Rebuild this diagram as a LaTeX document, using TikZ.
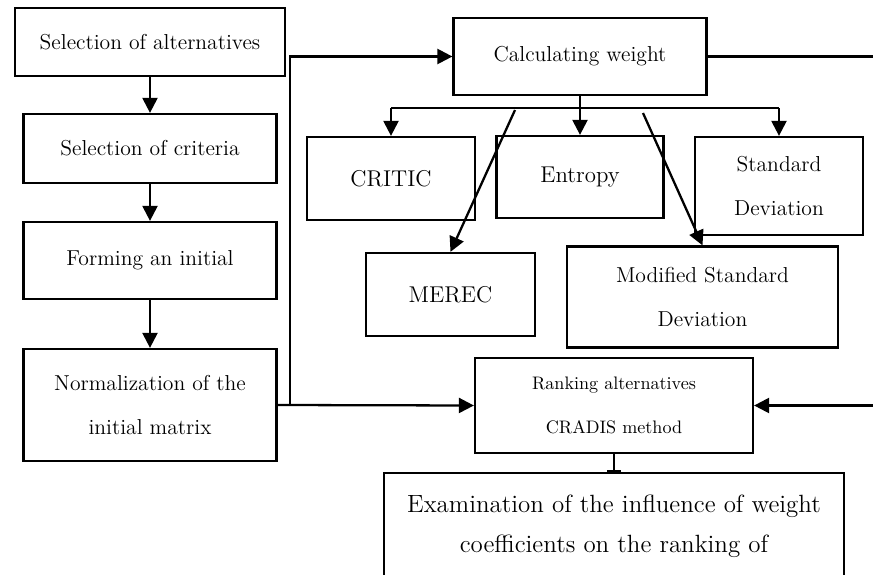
\documentclass[tikz,border=0pt]{standalone}
\usetikzlibrary{arrows.meta}

\begin{document}
\begin{tikzpicture}[x=0.02cm,y=-0.02cm,
		box/.style={draw, line width=1.3pt, align=center, inner sep=2pt, font=\fontsize{12.3}{25.5}\selectfont},
		big/.style={font=\fontsize{13}{25.5}\selectfont},
		arr/.style={line width=1.3pt, -{Triangle[length=8.5pt,width=8.5pt]}}]
		\clip (0,0) rectangle (873,575);

		\node[box, minimum width=5.4cm, minimum height=1.36cm] (selalt) at (150,42) {Selection of alternatives};
		\node[box, minimum width=5.06cm, minimum height=1.38cm] (selcrit) at (150,148.5) {Selection of criteria};
		\node[box, minimum width=5.06cm, minimum height=1.54cm] (form) at (150,260.5) {Forming an initial};
		\node[box, minimum width=5.06cm, minimum height=2.24cm] (norm) at (150,405) {Normalization of the\\initial matrix};

		\node[box, minimum width=5.06cm, minimum height=1.54cm] (calc) at (580,56.5) {Calculating weight};
		\node[box, big, minimum width=3.36cm, minimum height=1.66cm] (critic) at (391,178.5) {CRITIC};
		\node[box, big, minimum width=3.34cm, minimum height=1.64cm] (entropy) at (580,177) {Entropy};
		\node[box, minimum width=3.36cm, minimum height=1.96cm] (stddev) at (779,186) {Standard\\Deviation};
		\node[box, big, minimum width=3.38cm, minimum height=1.66cm] (merec) at (450.5,294.5) {MEREC};
		\node[box, minimum width=5.42cm, minimum height=2.02cm] (modsd) at (702.5,297) {Modified Standard\\Deviation};

		\node[box, minimum width=5.56cm, minimum height=1.9cm, font=\fontsize{10.3}{25.5}\selectfont] (rank) at (614,405.5) {Ranking alternatives\\CRADIS method};
		\node[box, minimum width=9.2cm, anchor=north, inner ysep=0pt, text height=1.58cm, text depth=3cm,
			font=\fontsize{14.2}{22.7}\selectfont] (exam) at (614,472) {Examination of the influence of weight\\coefficients on the ranking of};

		\draw[arr] (selalt) -- (selcrit);
		\draw[arr] (selcrit) -- (form);
		\draw[arr] (form) -- (norm);

		\coordinate (split) at (290,405);
		\draw[arr] (norm.east) -- (rank.west);
		\draw[arr] (split) |- (calc.west);

		\coordinate (right1) at (873,56.5);
		\coordinate (right2) at (873,405.5);
		\draw[line width=1.3pt] (calc.east) -- (right1);
		\draw[arr] (right2) -- (rank.east);

		\draw[arr] (calc.south) -- (entropy.north);
		\draw[line width=1.3pt] (critic.north |- 0,108) -- (stddev.north |- 0,108);
		\draw[arr] (critic.north |- 0,108) -- (critic.north);
		\draw[arr] (stddev.north |- 0,108) -- (stddev.north);

		\coordinate (d1) at (515,110);
		\coordinate (d2) at (643,113);
		\draw[arr] (d1) -- (merec.north);
		\draw[arr] (d2) -- (modsd.north);

		\draw[line width=1.3pt, -{Bar[width=8pt]}] (rank.south) -- (exam.north);
	\end{tikzpicture}
\end{document}
